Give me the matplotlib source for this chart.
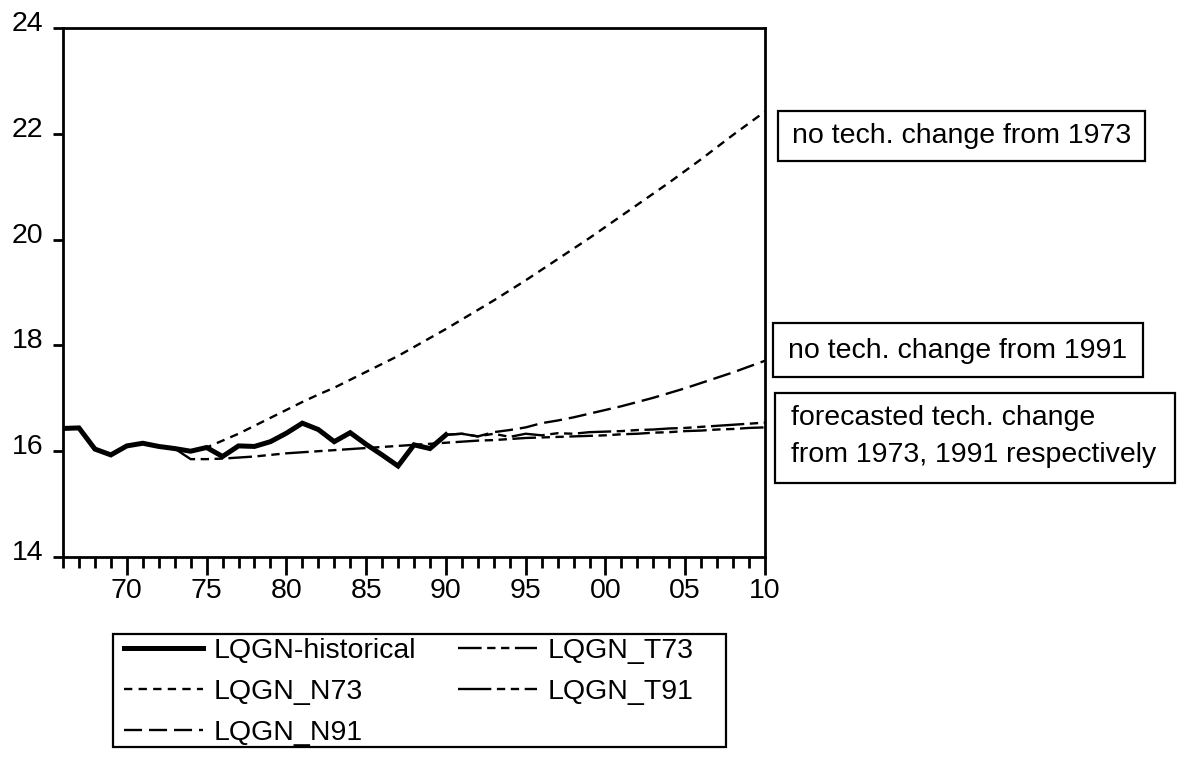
import matplotlib
matplotlib.use("Agg")
import matplotlib.pyplot as plt
from matplotlib.patches import Rectangle
from matplotlib.transforms import ScaledTranslation

plt.rcParams['font.family'] = ['Liberation Sans', 'DejaVu Sans']
plt.rcParams['lines.scale_dashes'] = False

# ---------------- data ----------------
hist_years = list(range(1966, 1991))
lqgn_hist = [16.43, 16.44, 16.04, 15.93, 16.10, 16.15, 16.09, 16.05, 16.00, 16.07,
             15.90, 16.10, 16.09, 16.18, 16.34, 16.53, 16.41, 16.18, 16.35, 16.13,
             15.93, 15.72, 16.12, 16.05, 16.31]

n73_years = list(range(1973, 2011))
lqgn_n73 = [16.05, 16.00, 16.07, 16.20, 16.33, 16.48, 16.63, 16.78, 16.93, 17.07,
            17.20, 17.35, 17.50, 17.65, 17.80, 17.97, 18.14, 18.31, 18.49, 18.67,
            18.85, 19.04, 19.23, 19.43, 19.63, 19.83, 20.03, 20.24, 20.45, 20.66,
            20.87, 21.08, 21.30, 21.52, 21.75, 21.98, 22.20, 22.42]

t73_years = list(range(1973, 2011))
lqgn_t73 = [16.05, 15.85, 15.85, 15.86, 15.88, 15.90, 15.93, 15.96, 15.98, 16.00,
            16.02, 16.04, 16.06, 16.08, 16.10, 16.12, 16.14, 16.16, 16.18, 16.20,
            16.21, 16.23, 16.25, 16.26, 16.27, 16.28, 16.29, 16.30, 16.32, 16.33,
            16.35, 16.36, 16.38, 16.39, 16.41, 16.42, 16.44, 16.45]

n91_years = list(range(1990, 2011))
lqgn_n91 = [16.31, 16.33, 16.28, 16.36, 16.40, 16.45, 16.53, 16.58, 16.64, 16.71,
            16.78, 16.85, 16.93, 17.01, 17.10, 17.19, 17.29, 17.39, 17.49, 17.60,
            17.71]

t91_years = list(range(1990, 2011))
lqgn_t91 = [16.31, 16.33, 16.28, 16.33, 16.27, 16.33, 16.30, 16.34, 16.33, 16.36,
            16.37, 16.38, 16.40, 16.41, 16.43, 16.44, 16.46, 16.48, 16.50, 16.52,
            16.54]

major_years = [1970, 1975, 1980, 1985, 1990, 1995, 2000, 2005, 2010]
major_labels = ["70", "75", "80", "85", "90", "95", "00", "05", "10"]
y_ticks = [14, 16, 18, 20, 22, 24]

# ---------------- figure ----------------
W, H = 1177, 763
fig = plt.figure(figsize=(W / 100, H / 100), dpi=100)
ax = fig.add_axes([63 / W, 1 - 557 / H, (765 - 63) / W, (557 - 28) / H])

thin = 1.7
l_hist, = ax.plot(hist_years, lqgn_hist, color='black', lw=3.6, solid_joinstyle='miter',
                  label='LQGN-historical', zorder=5)
l_n73, = ax.plot(n73_years, lqgn_n73, color='black', lw=thin, dashes=(6, 4.5),
                 label='LQGN_N73')
l_n91, = ax.plot(n91_years, lqgn_n91, color='black', lw=thin, dashes=(13, 5),
                 label='LQGN_N91')
l_t73, = ax.plot(t73_years, lqgn_t73, color='black', lw=thin,
                 dashes=(17, 4, 6, 4, 6, 4), label='LQGN_T73')
l_t91, = ax.plot(t91_years, lqgn_t91, color='black', lw=thin,
                 dashes=(24, 4, 6, 4, 6, 4), label='LQGN_T91')

ax.set_xlim(1966, 2010)
ax.set_ylim(14, 24)
ax.set_xticks(major_years)
ax.set_xticklabels(major_labels)
ax.set_xticks(list(range(1966, 2011)), minor=True)
ax.set_yticks(y_ticks)
ax.set_yticklabels([str(v) for v in y_ticks])

for s in ax.spines.values():
    s.set_linewidth(2.0)

ax.tick_params(axis='x', which='major', direction='out', length=13, width=2.0,
               labelsize=20.5, pad=2)
ax.tick_params(axis='x', which='minor', direction='out', length=8, width=2.0)
ax.tick_params(axis='y', which='major', direction='out', length=7, width=2.0,
               labelsize=20.5, pad=7)
ax.tick_params(axis='y', which='minor', left=False)

off = ScaledTranslation(0, 7 / 100, fig.dpi_scale_trans)
for lab in ax.get_yticklabels():
    lab.set_transform(lab.get_transform() + off)


# ---------------- boxes ----------------
def box(x0, y0, x1, y1):
    fig.add_artist(Rectangle((x0 / W, 1 - y1 / H), (x1 - x0) / W, (y1 - y0) / H,
                             transform=fig.transFigure, fill=False,
                             edgecolor='black', lw=1.6))


# ---------------- legend ----------------
leg = fig.legend(handles=[l_hist, l_n73, l_n91, l_t73, l_t91],
                 loc='upper left', bbox_to_anchor=(124 / W, 1 - 638 / H),
                 ncol=2, fontsize=20.5, frameon=False,
                 handlelength=2.77, handletextpad=0.37,
                 columnspacing=1.47, labelspacing=0.53, borderpad=0.0,
                 borderaxespad=0.0)
box(113, 634, 726, 747)

# ---------------- annotation boxes ----------------
box(778, 111, 1145, 161)
fig.text(792 / W, 1 - 136 / H, "no tech. change from 1973", fontsize=20.5,
         va='center', ha='left')

box(773, 323, 1143, 377)
fig.text(788 / W, 1 - 351 / H, "no tech. change from 1991", fontsize=20.5,
         va='center', ha='left')

box(775, 393, 1175, 483)
fig.text(791 / W, 1 - 418 / H, "forecasted tech. change", fontsize=20.5,
         va='center', ha='left')
fig.text(791 / W, 1 - 455 / H, "from 1973, 1991 respectively", fontsize=20.5,
         va='center', ha='left')

fig.savefig("out.png", dpi=100)
